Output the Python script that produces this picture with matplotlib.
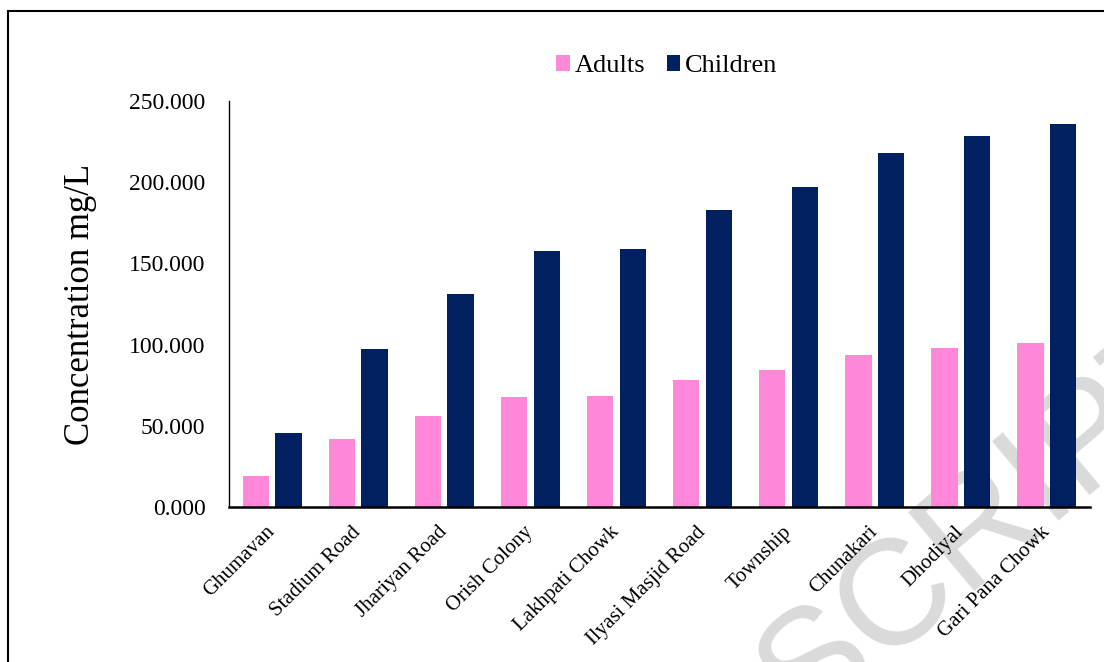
import matplotlib.pyplot as plt
import numpy as np
from matplotlib.patches import Rectangle

sites = ['Ghumavan', 'Stadium Road', 'Jhariyan Road', 'Orish Colony', 'Lakhpati Chowk',
         'Ilyasi Masjid Road', 'Township', 'Chunakari', 'Dhodiyal', 'Gari Pana Chowk']
adults = [19.3, 41.8, 56.2, 67.6, 68.2, 78.4, 84.6, 93.4, 98.0, 101.0]
children = [45.5, 97.3, 131.0, 157.8, 158.6, 183.0, 196.8, 217.9, 228.2, 235.8]
yticks = [0, 50, 100, 150, 200, 250]

plt.rcParams['font.family'] = ['Liberation Serif', 'DejaVu Serif']

fig = plt.figure(figsize=(11.04, 6.62), dpi=100)
ax = fig.add_axes([229/1104, 1 - 507/662, 861/1104, 406/662])

x = np.arange(len(sites))
w = 0.305
ax.bar(x - 0.19, adults, w, color='#FF89D8', label='Adults', zorder=2)
ax.bar(x + 0.19, children, w, color='#002060', label='Children', zorder=2)

ax.set_xlim(-0.5, len(sites) - 0.5)
ax.set_ylim(0, 250)
ax.set_yticks(yticks)
ax.set_yticklabels(['%.3f' % v for v in yticks])
ax.set_xticks(x)
ax.set_xticklabels(sites, rotation=45, ha='right', va='center', rotation_mode='anchor')
ax.tick_params(axis='y', length=0, pad=17, labelsize=17)
ax.tick_params(axis='x', length=0, pad=16, labelsize=15)

for s in ['top', 'right']:
    ax.spines[s].set_visible(False)
ax.spines['left'].set_linewidth(1.0)
ax.spines['bottom'].set_linewidth(1.8)

ax.set_ylabel('Concentration mg/L', fontsize=25)
ax.yaxis.set_label_coords(-0.153, 0.5)

leg = ax.legend(loc='center', bbox_to_anchor=(667/1104, 1 - 66/662), bbox_transform=fig.transFigure,
                ncol=2, frameon=False, fontsize=19, handlelength=0.5, handleheight=0.6,
                handletextpad=0.2, columnspacing=0.8)

# faint watermark behind the bars
ax.text(805/1104, 1 - 728/662, 'SCRIPT', transform=fig.transFigure, rotation=40,
        rotation_mode='anchor', ha='left', va='baseline', fontsize=108,
        fontfamily='Liberation Sans', color='#dadada', zorder=0, clip_on=False)

fig.patches.append(Rectangle((8/1104, -0.05), 1.2, 1 - 11/662 + 0.05, transform=fig.transFigure,
                             fill=False, edgecolor='black', linewidth=1.5))

plt.savefig('out.png', dpi=100)
